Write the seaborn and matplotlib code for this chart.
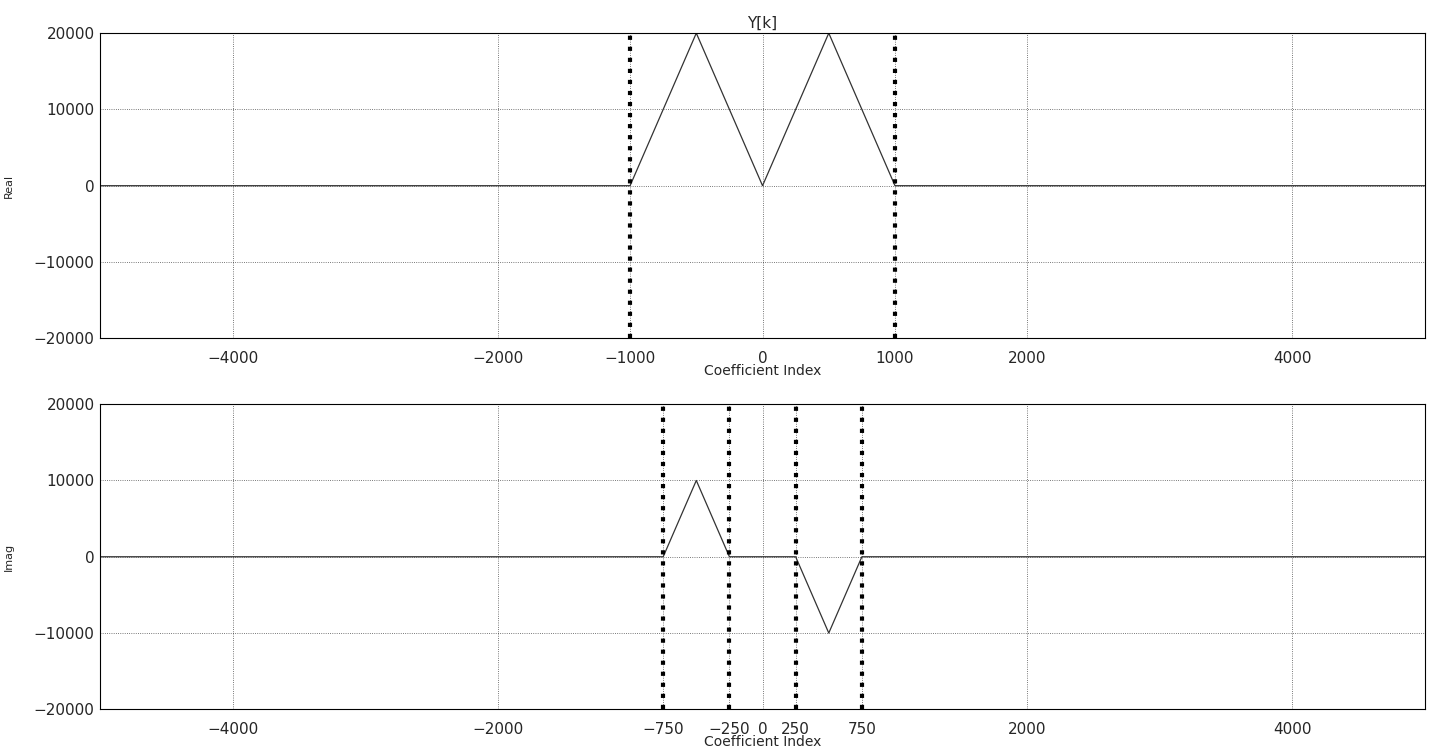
import matplotlib
matplotlib.use('Agg')
import matplotlib.pyplot as plt
import seaborn as sns

# values
k_real = [-5000, -1000, -500, 0, 500, 1000, 5000]
y_real = [0, 0, 20000, 0, 20000, 0, 0]
edges_real = [-1000, 1000]
ticks_real = [-4000, -2000, -1000, 0, 1000, 2000, 4000]

k_imag = [-5000, -750, -500, -250, 250, 500, 750, 5000]
y_imag = [0, 0, 10000, 0, 0, -10000, 0, 0]
edges_imag = [-750, -250, 250, 750]
ticks_imag = [-4000, -2000, -750, -250, 0, 250, 750, 2000, 4000]

y_ticks = [-20000, -10000, 0, 10000, 20000]


def panel(ax, k, y, edges, xticks, ylabel):
    sns.lineplot(x=k, y=y, ax=ax, color='#333333', linewidth=0.9)
    for e in edges:
        ax.axvline(e, color='black', linestyle=':', linewidth=3)
    ax.set_xlim(-5000, 5000)
    ax.set_ylim(-20000, 20000)
    ax.set_xticks(xticks)
    ax.set_yticks(y_ticks)
    ax.grid(True, color='black', linestyle=':', linewidth=0.6, alpha=0.7)
    ax.tick_params(labelsize=11, length=0)
    ax.tick_params(axis='x', pad=9)
    ax.tick_params(axis='y', pad=4)
    ax.set_xlabel('Coefficient Index', fontsize=10, labelpad=-1)
    ax.set_ylabel(ylabel, fontsize=8, labelpad=14)
    for s in ax.spines.values():
        s.set_color('black')
        s.set_linewidth(0.8)


def main():
    sns.set_style('white')
    plt.rcParams['font.family'] = ['DejaVu Sans']

    fig, (ax1, ax2) = plt.subplots(2, 1, figsize=(14.32, 7.53), dpi=100)
    fig.subplots_adjust(left=0.07, right=0.995, top=0.956, bottom=0.058, hspace=0.216)

    panel(ax1, k_real, y_real, edges_real, ticks_real, 'Real')
    ax1.set_title('Y[k]', fontsize=11, pad=4)
    panel(ax2, k_imag, y_imag, edges_imag, ticks_imag, 'Imag')

    fig.savefig('out.png', dpi=100)


if __name__ == '__main__':
    main()
